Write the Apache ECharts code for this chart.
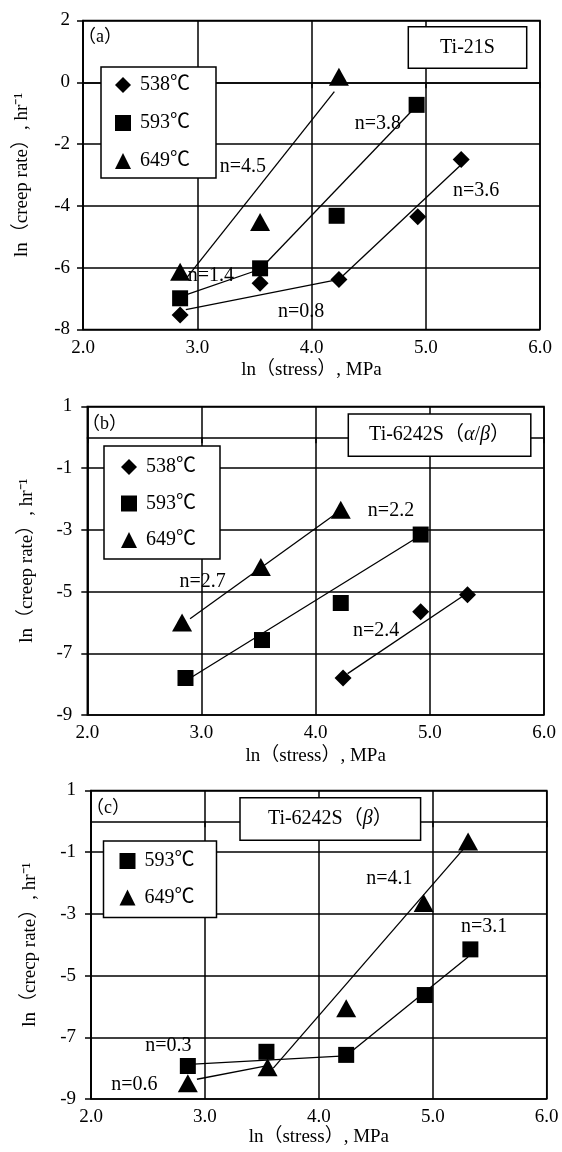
<!DOCTYPE html>
<html>
<head>
<meta charset="utf-8">
<title>ln(creep rate) vs ln(stress)</title>
<script src="https://cdn.jsdelivr.net/npm/echarts@6/dist/echarts.min.js"></script>
<style>
  html, body { margin: 0; padding: 0; background: #fff; }
  #chart { width: 562px; height: 1152px; }
</style>
</head>
<body>
<div id="chart"></div>
<script>
// [ln(stress), ln(creep rate)]
// (a) Ti-21S
const a538 = [[2.85, -7.53], [3.55, -6.5], [4.24, -6.38], [4.93, -4.35], [5.31, -2.5]];
const a593 = [[2.85, -6.99], [3.55, -6.02], [4.22, -4.32], [4.92, -0.73]];
const a649 = [[2.85, -6.13], [3.55, -4.52], [4.24, 0.18]];
const a538Low = [[2.9, -7.36], [4.24, -6.38]];
const a538High = [[4.24, -6.38], [5.3, -2.7]];
const a593Low = [[2.9, -6.88], [3.55, -6.05]];
const a593High = [[3.55, -6.05], [4.9, -0.84]];
const a649Fit = [[2.9, -6.36], [4.2, -0.3]];
const aNotes = [[3.40, -2.74, 'n=4.5'], [4.58, -1.34, 'n=3.8'], [5.44, -3.51, 'n=3.6'], [3.12, -6.26, 'n=1.4'], [3.91, -7.44, 'n=0.8']];

// (b) Ti-6242S (alpha/beta)
const b538 = [[4.24, -7.8], [4.92, -5.65], [5.33, -5.1]];
const b593 = [[2.86, -7.8], [3.53, -6.57], [4.22, -5.37], [4.92, -3.15]];
const b649 = [[2.83, -6.0], [3.52, -4.2], [4.22, -2.35]];
const b538Fit = [[4.28, -7.66], [5.3, -5.12]];
const b593Fit = [[2.92, -7.76], [4.9, -3.22]];
const b649Fit = [[2.9, -5.88], [4.18, -2.47]];
const bNotes = [[4.66, -2.37, 'n=2.2'], [3.01, -4.67, 'n=2.7'], [4.53, -6.27, 'n=2.4']];

// (c) Ti-6242S (beta)
const c593 = [[2.85, -7.93], [3.54, -7.47], [4.24, -7.57], [4.93, -5.63], [5.33, -4.15]];
const c649 = [[2.85, -8.49], [3.55, -7.97], [4.24, -6.06], [4.92, -2.65], [5.31, -0.65]];
const c593Low = [[2.9, -7.87], [4.23, -7.6]];
const c593High = [[4.24, -7.6], [5.31, -4.4]];
const c649Low = [[2.93, -8.36], [3.55, -7.92]];
const c649High = [[3.6, -8.0], [5.28, -0.85]];
const cNotes = [[4.62, -1.87, 'n=4.1'], [5.45, -3.43, 'n=3.1'], [2.68, -7.28, 'n=0.3'], [2.38, -8.55, 'n=0.6']];

const xRange = [2, 6];
const yRangeA = [-8, 2];
const yRangeBC = [-9, 1];
const tempNames = ['538℃', '593℃', '649℃'];

const FONT = "'Liberation Serif', 'Times New Roman', 'Noto Sans CJK SC', serif";
const INK = '#000';

const grids = [
  { left: 83, top: 20.5, width: 457, height: 309 },
  { left: 87.3, top: 406.5, width: 456.7, height: 308.5 },
  { left: 91, top: 790.5, width: 455.7, height: 308.5 }
];

function xAxisFor(i, nameGap) {
  return {
    type: 'value', gridIndex: i, min: xRange[0], max: xRange[1], interval: 1,
    name: 'ln（stress）, MPa', nameLocation: 'middle', nameGap: nameGap,
    nameTextStyle: { fontFamily: FONT, fontSize: 19, color: INK },
    axisLine: { show: true, lineStyle: { color: INK, width: 1.5 } },
    axisTick: { show: true, inside: false, length: 6, lineStyle: { color: INK, width: 1.5 } },
    axisLabel: { fontFamily: FONT, fontSize: 19, color: INK, margin: 9, formatter: v => v.toFixed(1) },
    splitLine: { show: true, lineStyle: { color: INK, width: 1.5 } }
  };
}

function yAxisFor(i, range, name, margin) {
  return {
    type: 'value', gridIndex: i, min: range[0], max: range[1], interval: 2,
    name: name, nameLocation: 'middle', nameRotate: 90, nameGap: 51,
    nameTextStyle: { fontFamily: FONT, fontSize: 19, color: INK },
    axisLine: { show: true, lineStyle: { color: INK, width: 1.5 } },
    axisTick: { show: true, inside: false, length: 6, lineStyle: { color: INK, width: 1.5 } },
    axisLabel: { fontFamily: FONT, fontSize: 19, color: INK, margin: margin },
    splitLine: { show: true, lineStyle: { color: INK, width: 1.5 } }
  };
}

const SYMBOLS = { '538℃': ['diamond', 17], '593℃': ['rect', 16], '649℃': ['triangle', [20, 18]] };

function points(name, data, i) {
  return {
    type: 'scatter', name: name, xAxisIndex: i, yAxisIndex: i, data: data,
    symbol: SYMBOLS[name][0], symbolSize: SYMBOLS[name][1],
    itemStyle: { color: INK, opacity: 1 }, z: 4, silent: true
  };
}

function fit(data, i) {
  return {
    type: 'line', name: 'fit', xAxisIndex: i, yAxisIndex: i, data: data,
    showSymbol: false, symbol: 'none', lineStyle: { color: INK, width: 1.3 }, z: 3, silent: true
  };
}

// slope labels, placed in data coordinates through the axes
function notes(data, i) {
  return {
    type: 'custom', name: 'note', xAxisIndex: i, yAxisIndex: i, z: 2, silent: true,
    data: data,
    encode: { x: 0, y: 1 },
    renderItem: (params, api) => {
      const p = api.coord([api.value(0), api.value(1)]);
      return {
        type: 'text', x: p[0], y: p[1],
        style: { text: data[params.dataIndex][2], fontFamily: FONT, fontSize: 20, fill: '#000', align: 'center', verticalAlign: 'middle' }
      };
    }
  };
}

const ICONS = { '538℃': 'diamond', '593℃': 'rect', '649℃': 'triangle' };

function legendFor(names, left, top, padding, gap) {
  return {
    orient: 'vertical', left: left, top: top, padding: padding, itemGap: gap,
    itemWidth: 16, itemHeight: 16, selectedMode: false,
    backgroundColor: '#fff', borderColor: INK, borderWidth: 1.5, borderRadius: 0,
    data: names.map(n => ({ name: n, icon: ICONS[n] })),
    textStyle: { fontFamily: FONT, fontSize: 20, color: INK, padding: [0, 0, 0, 4] }
  };
}

function labelBox(x, y, w, h, text, rich) {
  return [
    { type: 'rect', shape: { x: x, y: y, width: w, height: h }, z: 100,
      style: { fill: '#fff', stroke: INK, lineWidth: 1.5 } },
    { type: 'text', x: x + w / 2, y: y + h / 2, z: 101,
      style: { text: text, fontFamily: FONT, fontSize: 20, fill: INK, align: 'center', verticalAlign: 'middle', rich: rich || {} } }
  ];
}

function panelTag(x, y, text) {
  return { type: 'text', x: x, y: y, z: 101,
    style: { text: text, fontFamily: FONT, fontSize: 18, fill: INK, align: 'left', verticalAlign: 'middle' } };
}

const greek = { i: { fontFamily: FONT, fontSize: 20, fontStyle: 'italic', fill: INK } };

const chart = echarts.init(document.getElementById('chart'), null, { renderer: 'canvas' });
chart.setOption({
  animation: false,
  backgroundColor: '#fff',
  grid: grids.map(g => Object.assign({ show: true, borderColor: INK, borderWidth: 1.5, backgroundColor: '#fff' }, g)),
  xAxis: [xAxisFor(0, 31), xAxisFor(1, 32), xAxisFor(2, 28)],
  yAxis: [
    yAxisFor(0, yRangeA, 'ln（creep rate）, hr⁻¹', 13),
    yAxisFor(1, yRangeBC, 'ln（creep rate）, hr⁻¹', 15),
    yAxisFor(2, yRangeBC, 'ln（crecp rate）, hr⁻¹', 15)
  ],
  legend: [
    legendFor(tempNames, 101, 67, [8, 26, 7, 14], 18),
    legendFor(tempNames, 104, 446, [11, 24, 9, 17], 16.5),
    legendFor(tempNames.slice(1), 103.5, 841, [10, 22, 10, 16], 16.5)
  ],
  graphic: [
    ...labelBox(408.3, 26.7, 118.4, 41.6, 'Ti-21S'),
    ...labelBox(348.3, 414, 182.5, 42.3, 'Ti-6242S（{i|α}/{i|β}）', greek),
    ...labelBox(240, 797.8, 180.6, 42.5, 'Ti-6242S（{i|β}）', greek),
    panelTag(78, 37, '（a）'),
    panelTag(82, 424, '（b）'),
    panelTag(86, 808, '（c）')
  ],
  series: [
    fit(a538Low, 0), fit(a538High, 0), fit(a593Low, 0), fit(a593High, 0), fit(a649Fit, 0),
    notes(aNotes, 0),
    points('538℃', a538, 0), points('593℃', a593, 0), points('649℃', a649, 0),

    fit(b538Fit, 1), fit(b593Fit, 1), fit(b649Fit, 1),
    notes(bNotes, 1),
    points('538℃', b538, 1), points('593℃', b593, 1), points('649℃', b649, 1),

    fit(c593Low, 2), fit(c593High, 2), fit(c649Low, 2), fit(c649High, 2),
    notes(cNotes, 2),
    points('593℃', c593, 2), points('649℃', c649, 2)
  ]
});
</script>
</body>
</html>
